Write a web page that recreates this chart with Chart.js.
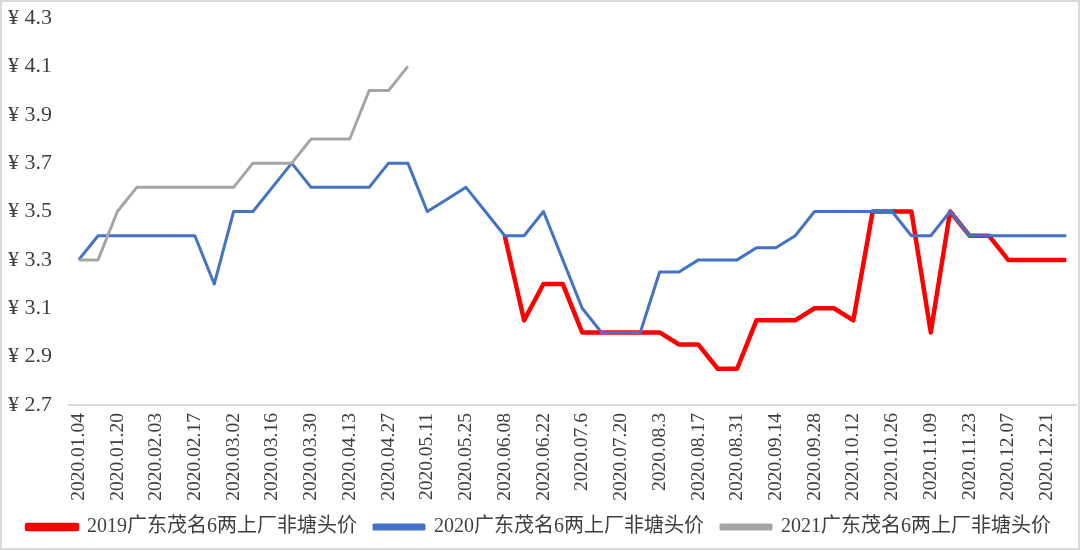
<!DOCTYPE html>
<html>
<head>
<meta charset="utf-8">
<script src="https://cdn.jsdelivr.net/npm/chart.js@4"></script>
<style>
    html, body { margin: 0; padding: 0; background: #fff; }
    #wrap { width: 1080px; height: 550px; box-sizing: border-box; border: 2px solid #d9d9d9; position: relative; }
</style>
</head>
<body>
<div id="wrap"><canvas id="chart"></canvas></div>
<script>
// weekly dates, only every other one is printed on the axis
const dates = [
    '2020.01.04', '2020.01.13', '2020.01.20', '2020.01.27', '2020.02.03', '2020.02.10',
    '2020.02.17', '2020.02.24', '2020.03.02', '2020.03.09', '2020.03.16', '2020.03.23',
    '2020.03.30', '2020.04.06', '2020.04.13', '2020.04.20', '2020.04.27', '2020.05.04',
    '2020.05.11', '2020.05.18', '2020.05.25', '2020.06.01', '2020.06.08', '2020.06.15',
    '2020.06.22', '2020.06.29', '2020.07.6', '2020.07.13', '2020.07.20', '2020.07.27',
    '2020.08.3', '2020.08.10', '2020.08.17', '2020.08.24', '2020.08.31', '2020.09.07',
    '2020.09.14', '2020.09.21', '2020.09.28', '2020.10.05', '2020.10.12', '2020.10.19',
    '2020.10.26', '2020.11.02', '2020.11.09', '2020.11.16', '2020.11.23', '2020.11.30',
    '2020.12.07', '2020.12.14', '2020.12.21', '2020.12.28'
];

const price2019 = [
    null, null, null, null, null, null, null, null, null, null, null,
    null, null, null, null, null, null, null, null, null, null, null,
    3.4, 3.05, 3.2, 3.2, 3.0, 3.0, 3.0, 3.0, 3.0, 2.95, 2.95, 2.85, 2.85,
    3.05, 3.05, 3.05, 3.1, 3.1, 3.05, 3.5, 3.5, 3.5, 3.0, 3.5, 3.4, 3.4,
    3.3, 3.3, 3.3, 3.3
];

const price2020 = [
    3.3, 3.4, 3.4, 3.4, 3.4, 3.4, 3.4, 3.2, 3.5, 3.5, 3.6, 3.7, 3.6,
    3.6, 3.6, 3.6, 3.7, 3.7, 3.5, 3.55, 3.6, 3.5, 3.4, 3.4, 3.5, 3.3,
    3.1, 3.0, 3.0, 3.0, 3.25, 3.25, 3.3, 3.3, 3.3, 3.35, 3.35, 3.4, 3.5,
    3.5, 3.5, 3.5, 3.5, 3.4, 3.4, 3.5, 3.4, 3.4, 3.4, 3.4, 3.4, 3.4
];

const price2021 = [
    3.3, 3.3, 3.5, 3.6, 3.6, 3.6, 3.6, 3.6, 3.6, 3.7, 3.7, 3.7, 3.8,
    3.8, 3.8, 4.0, 4.0, 4.1
];

const seriesNames = [
    '2019广东茂名6两上厂非塘头价',
    '2020广东茂名6两上厂非塘头价',
    '2021广东茂名6两上厂非塘头价'
];

Chart.defaults.font.family = "'Times New Roman', 'Liberation Serif', 'Noto Sans CJK SC', serif";
Chart.defaults.font.size = 20;
Chart.defaults.color = '#3f3f3f';

const ctx = document.getElementById('chart').getContext('2d');
new Chart(ctx, {
    type: 'line',
    data: {
        labels: dates,
        datasets: [
            {
                label: seriesNames[0],
                data: price2019,
                borderColor: '#ff0000',
                backgroundColor: '#ff0000',
                borderWidth: 4.5,
                pointRadius: 0,
                borderJoinStyle: 'round',
                order: 3
            },
            {
                label: seriesNames[1],
                data: price2020,
                borderColor: '#4472c4',
                backgroundColor: '#4472c4',
                borderWidth: 3,
                pointRadius: 0,
                borderJoinStyle: 'round',
                order: 2
            },
            {
                label: seriesNames[2],
                data: price2021,
                borderColor: '#a5a5a5',
                backgroundColor: '#a5a5a5',
                borderWidth: 3,
                pointRadius: 0,
                borderJoinStyle: 'round',
                order: 1
            }
        ]
    },
    options: {
        responsive: true,
        maintainAspectRatio: false,
        animation: false,
        layout: { padding: { top: 16, right: 2, left: 0, bottom: 1 } },
        scales: {
            x: {
                offset: true,
                grid: { display: true, color: 'rgba(0,0,0,0)', drawTicks: false },
                border: { display: true, color: '#d9d9d9', width: 2 },
                afterFit: (scale) => {
                    scale.paddingRight = 0;
                    scale.paddingLeft = 0;
                    scale.height = 95;
                },
                ticks: {
                    font: { size: 19.5 },
                    autoSkip: false,
                    maxRotation: 90,
                    minRotation: 90,
                    padding: 8,
                    callback: function (value, index) {
                        return index % 2 === 0 ? this.getLabelForValue(value) : '';
                    }
                }
            },
            y: {
                min: 2.7,
                max: 4.3,
                grid: { display: false },
                border: { display: false },
                afterFit: (scale) => {
                    scale.width = 67;
                    scale.paddingTop = 0;
                    scale.paddingBottom = 0;
                },
                ticks: {
                    font: { size: 22 },
                    stepSize: 0.2,
                    padding: 9,
                    callback: (v) => '¥ ' + v.toFixed(1)
                }
            }
        },
        plugins: {
            legend: {
                position: 'bottom',
                labels: {
                    boxWidth: 50,
                    boxHeight: 4,
                    padding: 17,
                    color: '#3f3f3f',
                    sort: (a, b) => a.datasetIndex - b.datasetIndex
                }
            },
            tooltip: { enabled: false }
        }
    }
});
</script>
</body>
</html>
